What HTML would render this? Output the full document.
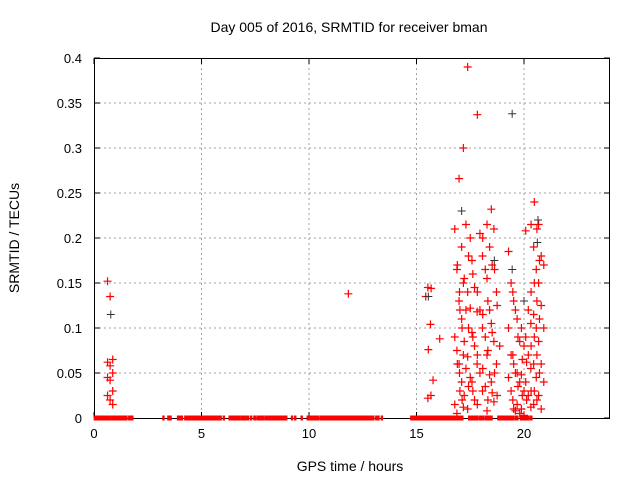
<!DOCTYPE html>
<html><head><meta charset="utf-8"><style>
body{margin:0;background:#fff}
svg{display:block;font-family:"Liberation Sans",sans-serif}
</style></head><body>
<svg id="c" width="640" height="480"></svg>
<script>
const xTicks=[0,5,10,15,20];
const yTicks=[0,0.05,0.1,0.15,0.2,0.25,0.3,0.35,0.4];
const yTickLabels=["0","0.05","0.1","0.15","0.2","0.25","0.3","0.35","0.4"];
const zeroSegments=[[0.03,0.75],[0.84,1.52],[1.63,1.65],[1.68,1.7],[1.77,1.79],[3.22,3.24],[3.45,3.47],[3.55,3.57],[3.9,4.1],[4.24,5.9],[6.03,6.05],[6.3,6.76],[6.85,7.18],[7.3,7.32],[7.45,7.5],[7.6,7.9],[8.0,8.3],[8.35,8.95],[9.2,9.22],[9.35,9.37],[9.65,9.67],[9.93,10.1],[10.15,10.45],[10.55,13.0],[13.12,13.14],[13.22,13.24],[13.38,13.4],[14.75,14.9],[14.97,17.14],[17.44,17.6],[17.65,17.85],[17.95,18.1],[18.2,18.5],[18.8,19.5],[19.6,19.7],[19.85,20.2],[20.3,20.35]];
const groupHours=[0.75,11.95,15.55,15.65,15.8,16.2,16.9,17.0,17.1,17.3,17.5,17.7,17.95,18.2,18.4,18.6,18.75,19.4,19.6,19.8,20.0,20.2,20.45,20.6,20.8];
const groupValues=[
[0.152,0.135,0.065,0.062,0.058,0.05,0.045,0.042,0.03,0.025,0.02,0.015],
[0.138],
[0.135,0.076,0.025],
[0.145,0.104,0.042,0.022],
[0.144],
[0.088],
[0.21,0.17,0.12,0.09,0.06,0.03,0.015],
[0.165,0.14,0.1,0.075,0.05,0.02,0.005],
[0.266,0.19,0.155,0.13,0.11,0.085,0.06,0.04,0.025],
[0.3,0.215,0.18,0.15,0.12,0.1,0.07,0.055,0.035,0.012],
[0.39,0.2,0.16,0.14,0.122,0.09,0.068,0.045,0.03,0.01],
[0.175,0.145,0.118,0.095,0.08,0.06,0.04,0.02],
[0.337,0.205,0.18,0.14,0.12,0.1,0.07,0.05,0.03,0.015],
[0.2,0.165,0.13,0.115,0.09,0.075,0.055,0.035,0.02],
[0.215,0.19,0.17,0.155,0.12,0.095,0.07,0.048,0.028,0.008],
[0.232,0.21,0.14,0.105,0.085,0.06,0.04,0.018],
[0.165,0.125,0.08,0.05,0.025],
[0.185,0.15,0.13,0.1,0.07,0.06,0.045,0.03,0.01],
[0.14,0.12,0.09,0.07,0.05,0.035,0.02,0.008],
[0.11,0.085,0.065,0.05,0.04,0.025,0.015,0.005],
[0.1,0.08,0.062,0.048,0.03,0.02,0.01,0.003],
[0.208,0.12,0.105,0.09,0.07,0.055,0.04,0.025,0.012],
[0.215,0.19,0.165,0.14,0.115,0.1,0.08,0.06,0.045,0.03,0.015],
[0.24,0.21,0.175,0.15,0.13,0.11,0.09,0.07,0.05,0.03,0.02],
[0.215,0.18,0.17,0.15,0.125,0.1,0.085,0.06,0.04,0.025,0.01]];
const blackHours=[0.78,15.55,17.1,19.45,20.62,20.65,19.45,18.62,20.0];
const blackValues=[0.115,0.135,0.23,0.338,0.195,0.22,0.165,0.175,0.13];

const L=94,R=610,T=58,B=418;
const xs=h=>L+h/24*(R-L);
const ys=v=>B-v/0.4*(B-T);
const svg=document.getElementById('c');
const NS='http://www.w3.org/2000/svg';
function mk(tag,at,parent){const e=document.createElementNS(NS,tag);for(const k in at)e.setAttribute(k,at[k]);(parent||svg).appendChild(e);return e;}
mk('rect',{x:0,y:0,width:640,height:480,fill:'#fff'});
const grid=mk('g',{stroke:'#a0a0a0','stroke-dasharray':'2,3','stroke-width':1});


xTicks.forEach(t=>{if(t>0){mk('line',{x1:xs(t),x2:xs(t),y1:T,y2:B},grid);}});
yTicks.forEach(t=>{if(t>0&&t<0.4){mk('line',{x1:L,x2:R,y1:ys(t),y2:ys(t)},grid);}});
const ax=mk('g',{stroke:'#000','stroke-width':1,fill:'none'});


mk('rect',{x:L+0.5,y:T+0.5,width:R-L-1,height:B-T},ax);
xTicks.forEach(t=>{mk('line',{x1:xs(t),x2:xs(t),y1:B,y2:B-6},ax);mk('line',{x1:xs(t),x2:xs(t),y1:T,y2:T+6},ax);});
yTicks.forEach(t=>{mk('line',{x1:L,x2:L+6,y1:ys(t),y2:ys(t)},ax);mk('line',{x1:R,x2:R-6,y1:ys(t),y2:ys(t)},ax);});
xTicks.forEach(t=>{const e=mk('text',{x:xs(t),y:B+20,'text-anchor':'middle','font-size':13,fill:'#000'});e.textContent=t;

});
yTicks.forEach((t,i)=>{const e=mk('text',{x:L-12,y:ys(t)+5,'text-anchor':'end','font-size':13,fill:'#000'});e.textContent=yTickLabels[i];

});
const zg=mk('g',{fill:'#ff0000'});


zeroSegments.forEach(s=>{mk('rect',{x:xs(s[0])-1,y:ys(0)-2.5,width:xs(s[1])-xs(s[0])+2,height:5},zg);});
function plus(g,h,v){const x=xs(h),y=ys(v);mk('path',{d:`M${x-4} ${y}h8M${x} ${y-4}v8`},g);}
const rg=mk('g',{stroke:'#ff0000','stroke-width':1.2,fill:'none'});


groupHours.forEach((h,i)=>groupValues[i].forEach((v,j)=>plus(rg,h+((j%3)-1)*0.12,v)));
const bg=mk('g',{stroke:'#333','stroke-width':1,fill:'none'});


blackHours.forEach((h,i)=>plus(bg,h,blackValues[i]));
const ti=mk('text',{x:349,y:32,'text-anchor':'middle','font-size':14,fill:'#000'});ti.textContent='Day 005 of 2016, SRMTID for receiver bman';


const xt=mk('text',{x:350,y:471,'text-anchor':'middle','font-size':14,fill:'#000'});xt.textContent='GPS time / hours';


const yt=mk('text',{x:0,y:0,'text-anchor':'middle','font-size':14,fill:'#000',transform:'translate(19,238) rotate(-90)'});yt.textContent='SRMTID / TECUs';


</script>
</body></html>
